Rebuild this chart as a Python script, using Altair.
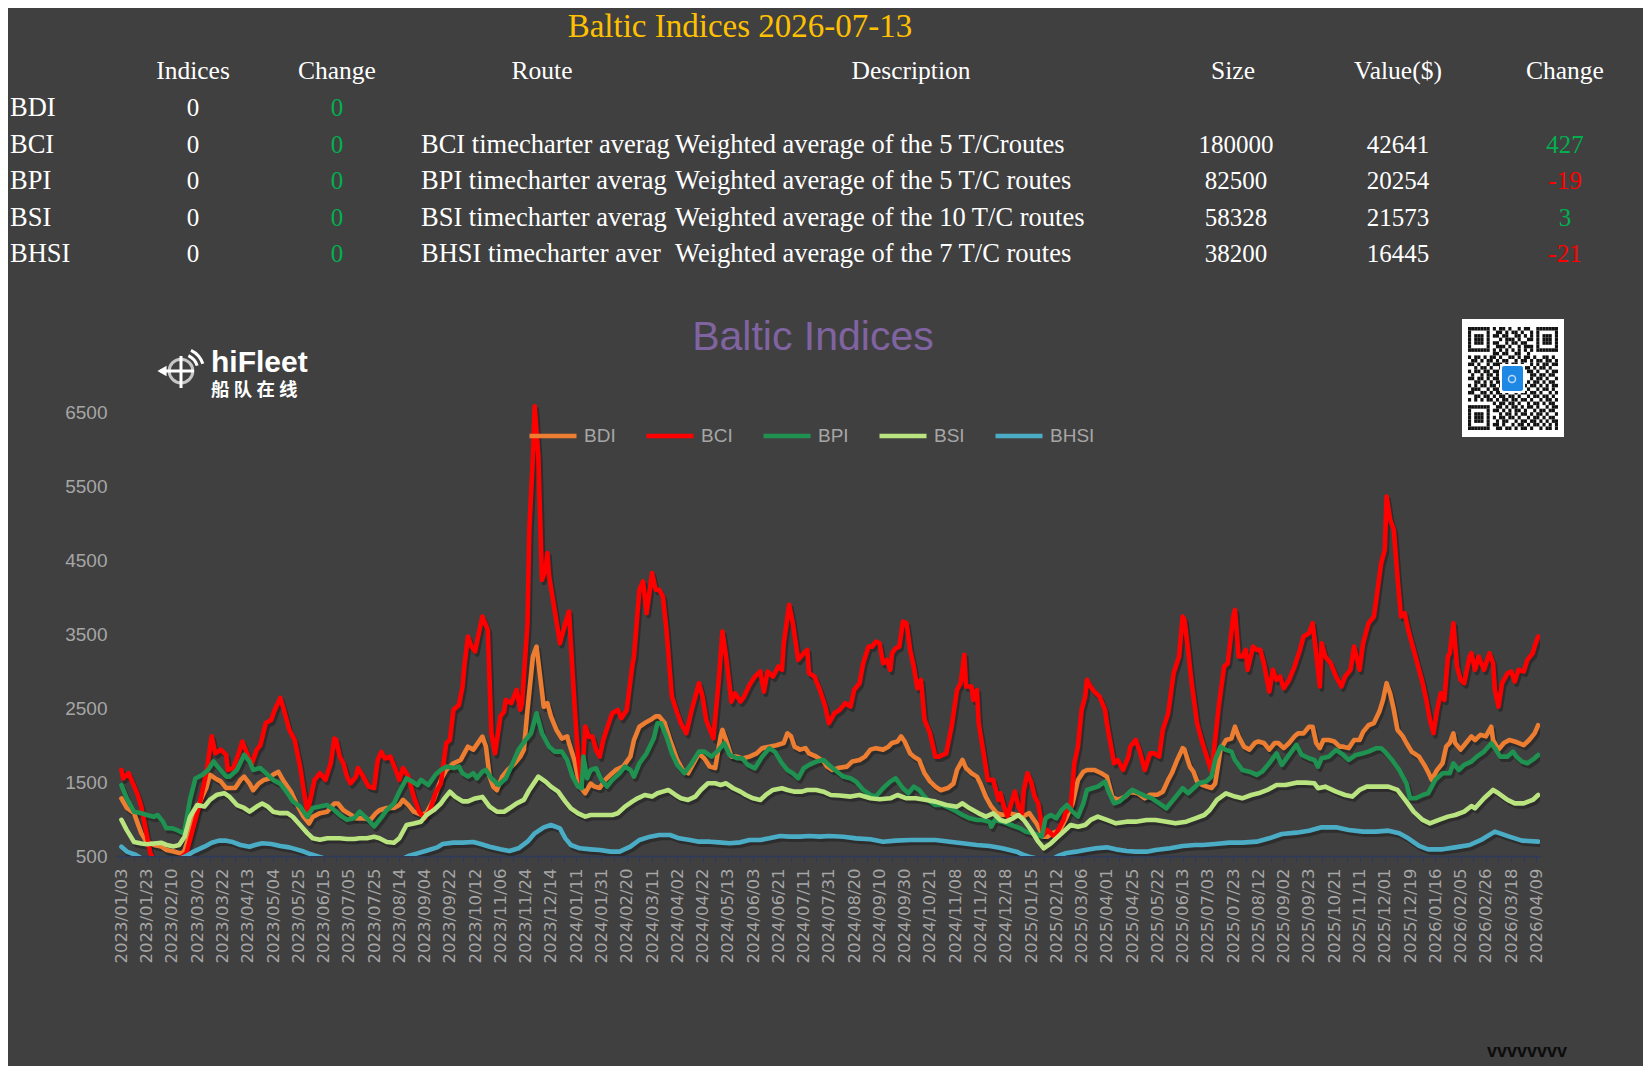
import altair as alt
import pandas as pd

# ------------------------------------------------------------------ data
series_names = ["BDI", "BCI", "BPI", "BSI", "BHSI"]
series_colors = ["#ED7D31", "#FF0000", "#1F9150", "#B9E47F", "#4BACC6"]

# x = trading-day index (0 = 2023/01/03, 784 = 2026/04/09)
bdi_points = [(0,1280),(3,1150),(7,1080),(11,810),(14,690),(18,650),(22,630),(25,580),(29,560),(32,540),(34,540),(35,580),(38,810),(41,1080),(44,1260),(47,1420),(49,1600),(52,1550),(55,1510),(58,1420),(60,1420),(63,1420),(66,1530),(68,1575),(71,1480),(73,1390),(76,1480),(79,1530),(82,1550),(84,1600),(87,1640),(90,1510),(94,1370),(97,1210),(101,1030),(104,940),(106,1030),(110,1080),(114,1100),(118,1210),(120,1210),(123,1120),(127,1060),(130,1010),(134,1010),(138,990),(141,1080),(143,1120),(147,1150),(151,1150),(154,1190),(156,1260),(159,1190),(162,1100),(166,1060),(169,1080),(173,1260),(177,1530),(180,1665),(184,1755),(188,1800),(192,1980),(195,1940),(200,2116),(202,1980),(204,1575),(206,1440),(208,1390),(211,1575),(214,1665),(218,1755),(221,1845),(223,1940),(225,2480),(228,3200),(230,3335),(232,2930),(234,2520),(236,2570),(238,2390),(241,2210),(244,2090),(247,2120),(248,2030),(251,1800),(254,1440),(257,1350),(260,1480),(262,1440),(265,1420),(268,1530),(271,1600),(274,1665),(278,1710),(282,1845),(284,2070),(287,2250),(290,2300),(293,2340),(296,2390),(298,2390),(301,2300),(304,2070),(308,1800),(311,1665),(314,1620),(317,1755),(320,1890),(323,1820),(326,1710),(329,1690),(332,2116),(333,2207),(335,2070),(338,1845),(341,1845),(344,1820),(348,1845),(352,1890),(355,1960),(359,1980),(363,2000),(367,2030),(369,2160),(371,2120),(373,1980),(376,1940),(379,1960),(381,1890),(385,1845),(389,1780),(391,1710),(394,1665),(397,1690),(402,1710),(405,1780),(409,1800),(412,1845),(415,1940),(418,1960),(422,1940),(425,1980),(427,2030),(430,2050),(432,2120),(434,2050),(437,1890),(439,1845),(442,1800),(445,1620),(448,1510),(451,1440),(454,1390),(458,1420),(461,1480),(463,1665),(466,1800),(468,1690),(471,1620),(474,1575),(476,1480),(479,1300),(482,1170),(485,1080),(488,1055),(492,1080),(496,1055),(499,1030),(503,1080),(507,940),(511,760),(513,760),(516,810),(520,850),(523,990),(527,1210),(530,1530),(533,1640),(535,1665),(539,1665),(543,1620),(546,1575),(549,1300),(552,1260),(556,1300),(559,1370),(563,1350),(567,1280),(570,1330),(574,1330),(577,1370),(580,1530),(582,1620),(585,1800),(588,1960),(589,1940),(592,1710),(594,1640),(596,1510),(599,1460),(604,1420),(606,1480),(609,1940),(612,2070),(615,2090),(617,2250),(619,2120),(622,1980),(625,1940),(628,2030),(630,2050),(633,2030),(636,1940),(639,2030),(641,2030),(644,1960),(647,2030),(650,2120),(652,2160),(655,2160),(658,2250),(660,2250),(662,2030),(664,1960),(666,2070),(669,2070),(672,2050),(675,1980),(677,1980),(680,1960),(683,2070),(686,2070),(688,2180),(691,2270),(694,2300),(697,2455),(699,2610),(701,2840),(703,2700),(705,2480),(707,2210),(710,2120),(712,2030),(715,1910),(719,1845),(722,1730),(724,1640),(726,1530),(729,1665),(732,1755),(734,1980),(736,2030),(738,2160),(739,2030),(742,1940),(745,2030),(748,2120),(750,2070),(753,2140),(756,2120),(759,2250),(760,2070),(763,1940),(766,2030),(769,2070),(772,2050),(774,2030),(777,2000),(780,2070),(783,2160),(785,2270)]

bci_points = [(0,1665),(1,1550),(4,1620),(9,1330),(11,1170),(16,540),(19,400),(29,400),(36,540),(43,1170),(47,1620),(50,2120),(52,1890),(55,1940),(58,1870),(59,1665),(62,1690),(65,1890),(67,2050),(70,1870),(72,1730),(75,1940),(77,2000),(80,2300),(83,2340),(85,2480),(88,2640),(90,2480),(93,2210),(96,2070),(99,1710),(101,1390),(103,1100),(105,1300),(107,1530),(110,1620),(113,1530),(116,1755),(118,2090),(119,2070),(121,1845),(123,1755),(125,1575),(127,1484),(130,1575),(131,1690),(134,1575),(137,1440),(140,1420),(142,1800),(144,1910),(146,1820),(149,1845),(152,1665),(154,1530),(156,1690),(159,1575),(162,1300),(165,1100),(168,1010),(171,1120),(174,1350),(177,1480),(178,1665),(180,2030),(182,2070),(184,2480),(187,2545),(189,2790),(190,3065),(192,3470),(194,3335),(196,3270),(198,3516),(200,3742),(203,3560),(205,2160),(207,1890),(210,2390),(212,2455),(213,2610),(216,2570),(219,2750),(221,2480),(222,2570),(225,3650),(226,4916),(228,5909),(229,6586),(231,5909),(233,4238),(235,4374),(236,4600),(237,4284),(240,3832),(243,3381),(246,3651),(248,3810),(249,3381),(251,2568),(253,1845),(255,1484),(257,2252),(259,2116),(261,2116),(263,1936),(265,1845),(267,2071),(270,2297),(272,2432),(275,2478),(277,2365),(280,2478),(283,3065),(284,3200),(287,4103),(289,4216),(291,3787),(294,4329),(296,4103),(298,4103),(300,4013),(302,3561),(305,2658),(308,2432),(310,2297),(313,2162),(316,2478),(318,2658),(320,2839),(322,2658),(324,2342),(328,2094),(331,2884),(333,3539),(335,3200),(338,2590),(340,2703),(343,2590),(345,2658),(348,2816),(351,2929),(354,2997),(356,2726),(358,2997),(361,2929),(364,3065),(366,3020),(367,3381),(370,3900),(372,3651),(375,3155),(378,3245),(380,3290),(381,2974),(384,2929),(387,2749),(390,2523),(392,2297),(395,2432),(398,2478),(401,2568),(404,2523),(406,2749),(409,2839),(411,3110),(414,3335),(416,3335),(418,3403),(420,3381),(422,3110),(424,3155),(426,3020),(427,3245),(429,3313),(431,3335),(433,3674),(435,3651),(437,3290),(439,3065),(441,2771),(443,2884),(445,2342),(448,2162),(451,1845),(453,1845),(457,1890),(460,2252),(463,2749),(465,2839),(467,3223),(468,2794),(471,2794),(472,2613),(474,2749),(475,2297),(478,1845),(480,1530),(483,1530),(486,1259),(487,1349),(489,1168),(491,1033),(493,1213),(495,1371),(497,1168),(499,1078),(500,1394),(502,1620),(504,1507),(506,1304),(508,1213),(510,897),(511,784),(513,852),(515,807),(517,762),(519,852),(522,988),(523,1078),(526,1168),(528,1755),(530,1981),(532,2478),(534,2658),(535,2884),(537,2794),(539,2726),(542,2658),(545,2478),(546,2297),(548,2026),(550,1755),(552,1800),(555,1665),(558,1845),(559,1981),(562,2071),(564,1936),(567,1665),(570,1890),(572,1890),(575,1845),(577,2207),(580,2432),(582,2794),(583,2974),(586,3200),(588,3742),(589,3697),(591,3290),(593,2839),(596,2297),(599,2026),(602,1800),(604,1642),(606,2071),(608,2523),(611,3065),(613,3110),(616,3742),(617,3832),(619,3200),(621,3200),(623,3290),(624,3020),(627,3335),(629,3290),(631,3290),(633,3110),(636,2726),(638,3020),(640,2884),(642,2929),(644,2771),(647,2884),(650,3065),(653,3290),(655,3471),(658,3516),(660,3651),(662,3245),(664,2794),(665,3381),(667,3200),(670,3110),(673,2929),(676,2794),(678,2929),(681,3020),(683,3335),(686,3020),(688,3381),(691,3651),(694,3742),(696,4103),(698,4464),(700,4645),(701,5367),(703,5051),(705,4916),(707,4284),(709,3742),(711,3787),(713,3561),(716,3290),(719,3020),(721,2839),(723,2613),(725,2342),(727,2162),(729,2478),(731,2703),(733,2613),(735,3200),(736,3245),(738,3651),(740,3065),(742,2884),(744,2839),(747,3200),(748,3245),(750,3020),(752,3200),(755,3020),(758,3245),(760,3110),(761,2749),(763,2523),(765,2839),(768,2974),(770,2997),(772,2861),(774,3020),(777,2997),(779,3155),(782,3245),(783,3335),(785,3471)]

bpi_points = [(0,1460),(3,1280),(7,1100),(11,1080),(14,1055),(18,1030),(20,1055),(23,965),(25,875),(28,875),(31,850),(34,810),(35,850),(38,1260),(41,1550),(45,1600),(48,1665),(51,1780),(54,1690),(58,1575),(60,1575),(64,1665),(68,1870),(71,1780),(73,1665),(77,1690),(81,1600),(84,1530),(88,1480),(92,1350),(95,1240),(99,1170),(103,1030),(106,1150),(110,1170),(114,1190),(118,1120),(121,1055),(125,990),(129,1010),(132,1100),(136,1010),(140,900),(143,990),(147,1120),(151,1210),(154,1370),(158,1550),(161,1510),(164,1460),(166,1530),(170,1460),(174,1600),(177,1665),(180,1710),(184,1690),(187,1710),(189,1620),(192,1575),(195,1620),(197,1552),(200,1642),(202,1665),(205,1552),(209,1462),(213,1552),(216,1710),(220,1936),(224,2071),(227,2162),(230,2432),(233,2162),(237,1981),(240,1913),(244,1913),(247,1800),(250,1575),(253,1439),(255,1417),(256,1845),(258,1552),(260,1665),(263,1687),(266,1530),(269,1439),(272,1530),(276,1620),(279,1710),(282,1665),(284,1575),(287,1755),(291,1890),(295,2094),(297,2297),(299,2297),(302,2116),(305,1890),(308,1733),(312,1620),(316,1755),(320,1913),(323,1913),(327,1845),(331,1936),(334,2026),(337,1868),(341,1823),(344,1823),(347,1733),(351,1687),(355,1845),(359,1958),(362,1913),(366,1755),(369,1665),(372,1620),(375,1552),(378,1687),(381,1733),(385,1778),(389,1800),(392,1733),(396,1650),(400,1575),(404,1552),(407,1507),(411,1394),(415,1326),(418,1304),(422,1417),(426,1507),(429,1552),(433,1417),(436,1349),(439,1439),(442,1394),(445,1304),(448,1236),(451,1191),(455,1191),(459,1146),(463,1100),(466,1055),(470,1010),(474,988),(477,988),(481,965),(482,897),(484,988),(488,965),(493,920),(498,875),(501,830),(505,807),(508,784),(510,762),(512,1010),(515,1055),(518,1010),(521,1123),(524,1191),(527,1100),(530,1033),(533,1213),(535,1394),(538,1417),(541,1439),(545,1507),(547,1371),(550,1213),(553,1236),(557,1326),(560,1394),(564,1349),(568,1304),(571,1281),(575,1213),(579,1146),(582,1236),(585,1326),(588,1417),(591,1349),(594,1417),(597,1484),(601,1507),(604,1575),(606,1800),(609,1981),(612,1936),(615,1913),(617,1800),(621,1665),(625,1642),(629,1597),(632,1642),(636,1755),(640,1890),(643,1733),(647,1868),(651,2003),(654,1868),(658,1823),(661,1800),(663,1710),(665,1823),(669,1845),(673,1936),(677,1868),(680,1800),(684,1868),(688,1890),(691,1913),(695,1958),(698,1958),(700,1913),(704,1800),(708,1665),(712,1484),(714,1281),(717,1281),(721,1326),(724,1349),(728,1530),(732,1620),(736,1620),(738,1755),(741,1665),(744,1733),(748,1778),(751,1845),(755,1913),(759,2026),(761,1958),(764,1845),(768,1845),(771,1913),(773,1845),(776,1778),(779,1755),(783,1823),(785,1868)]

bsi_points = [(0,990),(3,850),(7,690),(11,670),(14,660),(18,670),(22,680),(25,650),(29,630),(32,650),(35,760),(38,1030),(42,1190),(46,1170),(49,1260),(53,1330),(57,1350),(60,1300),(64,1190),(68,1150),(71,1100),(75,1170),(78,1210),(81,1170),(84,1100),(88,1080),(92,1080),(95,1030),(99,920),(103,810),(106,740),(110,720),(114,740),(118,740),(121,740),(125,730),(129,730),(132,740),(136,740),(140,760),(143,740),(147,690),(151,680),(154,740),(158,920),(162,940),(166,965),(169,1055),(173,1120),(177,1210),(179,1280),(182,1370),(185,1300),(189,1240),(192,1240),(196,1280),(200,1300),(204,1168),(208,1100),(212,1100),(215,1146),(219,1213),(223,1259),(226,1394),(231,1575),(235,1507),(238,1439),(242,1371),(246,1236),(249,1146),(253,1078),(257,1033),(260,1055),(264,1055),(268,1055),(272,1055),(275,1078),(279,1168),(283,1236),(286,1281),(290,1326),(294,1304),(297,1349),(300,1371),(303,1394),(307,1326),(310,1281),(314,1259),(318,1304),(321,1394),(325,1484),(329,1484),(332,1462),(335,1484),(339,1417),(343,1371),(346,1326),(350,1281),(354,1259),(357,1326),(361,1394),(366,1417),(369,1394),(373,1371),(377,1371),(380,1394),(385,1394),(389,1371),(393,1326),(398,1320),(404,1304),(409,1326),(415,1281),(420,1268),(426,1281),(430,1326),(435,1281),(440,1281),(446,1259),(451,1236),(457,1191),(463,1168),(466,1213),(470,1146),(475,1078),(479,1033),(483,1078),(487,988),(490,965),(494,1010),(497,1055),(500,988),(504,852),(508,694),(511,604),(515,672),(519,762),(523,852),(526,920),(530,897),(534,920),(537,988),(541,1033),(546,988),(551,942),(557,965),(562,965),(568,988),(573,988),(579,965),(584,942),(590,965),(595,1010),(600,1055),(603,1123),(607,1259),(612,1349),(617,1304),(621,1281),(626,1326),(630,1349),(635,1394),(640,1462),(645,1462),(651,1493),(656,1493),(661,1484),(663,1417),(667,1439),(673,1371),(678,1326),(682,1304),(686,1394),(690,1439),(696,1439),(702,1439),(707,1394),(712,1236),(716,1100),(721,988),(725,942),(730,988),(735,1033),(739,1055),(744,1100),(748,1177),(750,1146),(755,1281),(760,1394),(763,1349),(768,1259),(772,1213),(777,1213),(782,1259),(785,1326)]

bhsi_points = [(0,626),(3,560),(8,514),(11,470),(14,450),(20,440),(30,440),(36,500),(40,560),(46,626),(50,680),(54,708),(58,708),(61,694),(66,649),(71,626),(74,649),(78,672),(83,663),(88,636),(93,617),(97,590),(101,560),(105,523),(108,500),(112,470),(120,440),(140,430),(155,450),(159,500),(164,536),(169,572),(175,617),(178,663),(184,681),(189,681),(195,690),(200,655),(204,626),(210,590),(215,568),(220,604),(225,694),(229,807),(234,888),(238,920),(243,875),(246,739),(249,649),(254,604),(260,590),(265,581),(271,559),(276,559),(282,626),(287,717),(293,762),(298,784),(304,784),(309,739),(315,717),(320,694),(326,694),(331,685),(337,672),(343,685),(348,717),(354,717),(359,739),(365,771),(370,762),(376,762),(381,771),(387,762),(392,771),(400,760),(407,739),(415,726),(422,694),(429,708),(437,717),(444,717),(451,717),(459,694),(466,672),(474,649),(481,636),(488,604),(496,559),(500,514),(503,490),(510,450),(516,460),(519,500),(523,536),(529,559),(534,581),(540,604),(546,617),(551,590),(557,568),(562,559),(568,559),(573,581),(581,604),(588,636),(595,649),(599,649),(606,663),(614,681),(621,681),(629,694),(636,739),(643,798),(651,816),(658,843),(665,888),(673,888),(680,852),(688,830),(695,830),(702,843),(708,807),(713,739),(719,636),(724,590),(732,590),(739,617),(747,649),(754,726),(761,830),(769,762),(776,708),(785,694)]

# x-axis tick labels, one every 14 trading days
date_labels = ["2023/01/03","2023/01/23","2023/02/10","2023/03/02","2023/03/22","2023/04/13","2023/05/04","2023/05/25","2023/06/15","2023/07/05","2023/07/25","2023/08/14","2023/09/04","2023/09/22","2023/10/12","2023/11/06","2023/11/24","2023/12/14","2024/01/11","2024/01/31","2024/02/20","2024/03/11","2024/04/02","2024/04/22","2024/05/13","2024/06/03","2024/06/21","2024/07/11","2024/07/31","2024/08/20","2024/09/10","2024/09/30","2024/10/21","2024/11/08","2024/11/28","2024/12/18","2025/01/15","2025/02/12","2025/03/06","2025/04/01","2025/04/25","2025/05/22","2025/06/13","2025/07/03","2025/07/23","2025/08/12","2025/09/02","2025/09/23","2025/10/21","2025/11/11","2025/12/01","2025/12/19","2026/01/16","2026/02/05","2026/02/26","2026/03/18","2026/04/09"]
y_ticks = [500, 1500, 2500, 3500, 4500, 5500, 6500]

# table above the chart
table_title = "Baltic Indices 2026-07-13"
col_headers = ["Indices", "Change", "Route", "Description", "Size", "Value($)", "Change"]
index_names = ["BDI", "BCI", "BPI", "BSI", "BHSI"]
index_values = [0, 0, 0, 0, 0]
index_changes = [0, 0, 0, 0, 0]
routes = ["", "BCI timecharter average", "BPI timecharter average", "BSI timecharter average", "BHSI timecharter average"]
descriptions = ["", "Weighted average of the 5 T/Croutes", "Weighted average of the 5 T/C routes", "Weighted average of the 10 T/C routes", "Weighted average of the 7 T/C routes"]
sizes = ["", "180000", "82500", "58328", "38200"]
route_values = ["", "42641", "20254", "21573", "16445"]
route_changes = [None, 427, -19, 3, -21]

chart_title = "Baltic Indices"
logo_text = "hiFleet"
logo_cn = "船 队 在 线"
footer_text = "vvvvvvvv"

# QR-code like decoration (module bitmap)
F = ["1111111", "1000001", "1011101", "1011101", "1011101", "1000001", "1111111"]
qr_mid_top = ["1011010010110", "0110101101001", "1101100110101", "0010111010011", "1100101101100", "0111010010111", "1010101010101"]
qr_body = [
    "00000000" + "1101100110010" + "00000000",
    "10110101101001101011010011010",
    "01101011010110010110101101101",
    "11010010111010110100101011011",
    "00101101001100000011010110100",
    "10110110110100000001101001011",
    "01001011010000000000110110110",
    "11011010110100000000101101001",
    "00110101011000000001011010110",
    "10101101101100000010110101011",
    "01110010110101101101001011010",
    "11001101011010010110110100101",
    "00110110101101101001011011010",
    "10101011010110110110100101101",
    "00000000" + "101101101001011010110",
]
qr_tail = ["011010110101101001011", "110101011010010110110", "001011010110101101001",
           "101101101001011010110", "010110010110110101011", "110100101101011010101",
           "011011010110100101101"]
qr_rows = [F[r] + "0" + qr_mid_top[r] + "0" + F[r] for r in range(7)] + qr_body + \
          [F[r] + "0" + qr_tail[r] for r in range(7)]

# ------------------------------------------------------------------ layout (page pixels)
PX0, PY0 = 116, 398          # plot-area origin on the page
PLOT_W, PLOT_H = 1424, 458
BG = "#404040"
LINE_W = 4.6


def rx(x):
    return x - PX0


def ry(y):
    return y - PY0


# ------------------------------------------------------------------ series frame
recs = []
for name, pts in zip(series_names, [bdi_points, bci_points, bpi_points, bsi_points, bhsi_points]):
    for i, v in pts:
        recs.append({"series": name, "idx": i, "val": v})
df = pd.DataFrame(recs)

label_array = "[" + ",".join("'%s'" % d for d in date_labels) + "]"
x_axis = alt.Axis(
    values=list(range(0, 785, 7)),
    labelExpr="datum.value % 14 == 0 ? " + label_array + "[datum.value / 14] : ''",
    labelAngle=-90, labelFont="DejaVu Sans", labelFontSize=16.5, labelColor="#A6A6A6",
    labelPadding=6, labelOverlap=False, labelFlush=False, labelBound=False,
    tickColor="#2E3A5C", tickSize=6, tickWidth=1,
    domainColor="#2E3A5C", domainWidth=1.5, grid=False, title=None,
)
y_axis = alt.Axis(
    values=y_ticks, format="d", labelFont="Liberation Sans", labelFontSize=19, labelColor="#A6A6A6",
    labelPadding=9, domain=False, ticks=False, tickSize=0, grid=False, title=None,
)
X = alt.X("idx:Q", scale=alt.Scale(domain=[-3, 786], nice=False, zero=False), axis=x_axis)
Y = alt.Y("val:Q", scale=alt.Scale(domain=[500, 6700], nice=False, zero=False), axis=y_axis)

shadow = alt.Chart(df).mark_line(
    stroke="#1a1a1a", strokeWidth=LINE_W, opacity=0.5, xOffset=2, yOffset=3,
    clip=True, strokeJoin="round", strokeCap="round",
).encode(x=X, y=Y, detail="series:N")

lines = alt.Chart(df).mark_line(
    strokeWidth=LINE_W, clip=True, strokeJoin="round", strokeCap="round"
).encode(
    x=X, y=Y,
    color=alt.Color(
        "series:N",
        scale=alt.Scale(domain=series_names, range=series_colors),
        sort=series_names,
        legend=alt.Legend(
            orient="none", legendX=411, legendY=12, direction="horizontal", title=None,
            symbolType="stroke", symbolStrokeWidth=LINE_W, symbolSize=2209,
            labelFont="Liberation Sans", labelFontSize=19, labelColor="#A6A6A6",
            columnPadding=21, labelOffset=5, padding=0,
        ),
    ),
)

# ------------------------------------------------------------------ texts
SERIF = "Liberation Serif"
TXT_FS = 26.5     # words in the table
NUM_FS = 25       # numbers in the table
HEAD_FS = 25.5


def one_text(text, x, y, **kw):
    return alt.Chart(pd.DataFrame({"t": [text]})).mark_text(**kw).encode(
        x=alt.value(rx(x)), y=alt.value(ry(y)), text="t:N")


layers = []
layers.append(one_text(table_title, 740, 37, font=SERIF, fontSize=33, color="#FFC000",
                       align="center", baseline="alphabetic"))
header_x = [193, 337, 542, 911, 1233, 1398, 1565]
for h, hx in zip(col_headers, header_x):
    layers.append(one_text(h, hx, 79, font=SERIF, fontSize=HEAD_FS, color="#FFFFFF",
                           align="center", baseline="alphabetic"))

row_base = [116 + 36.5 * k for k in range(len(index_names))]
GREEN, RED = "#00B050", "#FF0000"
tab = pd.DataFrame({
    "name": index_names,
    "ival": [str(v) for v in index_values],
    "ichg": [str(v) for v in index_changes],
    "route": routes,
    "desc": descriptions,
    "size": sizes,
    "rval": route_values,
    "rchg": ["" if c is None else str(c) for c in route_changes],
    "rclr": [GREEN if (c is not None and c >= 0) else RED for c in route_changes],
    "py": [ry(b) for b in row_base],
})


def col_text(field, x, align, color, fs, **kw):
    enc = dict(x=alt.value(rx(x)), y=alt.Y("py:Q", scale=None, axis=None), text=f"{field}:N")
    mk = dict(font=SERIF, fontSize=fs, align=align, baseline="alphabetic", **kw)
    if color is None:
        enc["color"] = alt.Color("rclr:N", scale=None, legend=None)
    else:
        mk["color"] = color
    return alt.Chart(tab).mark_text(**mk).encode(**enc)


layers.append(col_text("name", 10, "left", "#FFFFFF", TXT_FS))
layers.append(col_text("ival", 193, "center", "#FFFFFF", NUM_FS))
layers.append(col_text("ichg", 337, "center", GREEN, NUM_FS))
layers.append(col_text("route", 421, "left", "#FFFFFF", TXT_FS, limit=251, ellipsis="\u200b"))
layers.append(col_text("desc", 675, "left", "#FFFFFF", TXT_FS))
layers.append(col_text("size", 1236, "center", "#FFFFFF", NUM_FS))
layers.append(col_text("rval", 1398, "center", "#FFFFFF", NUM_FS))
layers.append(col_text("rchg", 1565, "center", None, NUM_FS))

# chart title and logo
layers.append(one_text(chart_title, 813, 350, font="Liberation Sans", fontSize=41,
                       color="#8064A2", align="center", baseline="alphabetic"))
layers.append(one_text(logo_text, 211, 372, font="Liberation Sans", fontSize=30,
                       fontWeight="bold", color="#FFFFFF", align="left", baseline="alphabetic"))
layers.append(one_text(logo_cn, 211, 396, font="Noto Sans CJK SC", fontSize=18.5,
                       fontWeight="bold", color="#FFFFFF", align="left", baseline="alphabetic"))

one = pd.DataFrame({"k": [0]})
gx, gy = 181, 371
layers.append(alt.Chart(one).mark_point(shape="circle", filled=False, stroke="#FFFFFF",
                                        strokeWidth=3, size=560).encode(
    x=alt.value(rx(gx)), y=alt.value(ry(gy))))
layers.append(alt.Chart(one).mark_rule(color="#FFFFFF", strokeWidth=3).encode(
    x=alt.value(rx(160)), x2=alt.value(rx(194)), y=alt.value(ry(gy))))
layers.append(alt.Chart(one).mark_rule(color="#FFFFFF", strokeWidth=3).encode(
    x=alt.value(rx(gx)), y=alt.value(ry(356)), y2=alt.value(ry(388))))
layers.append(alt.Chart(one).mark_point(shape="triangle-left", filled=True, color="#FFFFFF",
                                        opacity=1, size=110).encode(
    x=alt.value(rx(162)), y=alt.value(ry(gy))))
for r0, r1 in [(15.5, 18.5), (21.5, 24.5)]:
    layers.append(alt.Chart(one).mark_arc(radius=r1, radius2=r0, theta=0.45, theta2=1.25,
                                          color="#FFFFFF").encode(
        x=alt.value(rx(gx)), y=alt.value(ry(gy))))

# QR decoration
QX0, QY0, QX1, QY1 = 1462, 319, 1564, 437
layers.append(alt.Chart(one).mark_rect(color="#FFFFFF").encode(
    x=alt.value(rx(QX0)), x2=alt.value(rx(QX1)), y=alt.value(ry(QY0)), y2=alt.value(ry(QY1))))
mx0, my0 = 1468, 327
mw, mh = 90 / 29, 103 / 29
cells = []
for r, row in enumerate(qr_rows):
    for c, ch in enumerate(row[:29]):
        if ch == "1":
            cells.append({"qx": rx(mx0 + c * mw), "qx2": rx(mx0 + (c + 1) * mw),
                          "qy": ry(my0 + r * mh), "qy2": ry(my0 + (r + 1) * mh)})
qr_df = pd.DataFrame(cells)
layers.append(alt.Chart(qr_df).mark_rect(color="#111111").encode(
    x=alt.X("qx:Q", scale=None, axis=None), x2="qx2:Q",
    y=alt.Y("qy:Q", scale=None, axis=None), y2="qy2:Q"))
layers.append(alt.Chart(one).mark_rect(color="#FFFFFF").encode(
    x=alt.value(rx(1500)), x2=alt.value(rx(1525)), y=alt.value(ry(364)), y2=alt.value(ry(393))))
layers.append(alt.Chart(one).mark_rect(color="#1E88E5", cornerRadius=2).encode(
    x=alt.value(rx(1502)), x2=alt.value(rx(1523)), y=alt.value(ry(366)), y2=alt.value(ry(391))))
layers.append(alt.Chart(one).mark_point(shape="circle", filled=False, stroke="#FFFFFF",
                                        strokeWidth=1.5, size=50).encode(
    x=alt.value(rx(1512)), y=alt.value(ry(379))))

layers.append(one_text(footer_text, 1487, 1057, font="Liberation Sans", fontSize=18,
                       fontWeight="bold", color="#0D0D0D", align="left", baseline="alphabetic"))

chart = alt.layer(shadow, lines, *layers).properties(
    width=PLOT_W, height=PLOT_H,
    padding={"left": 108, "top": 390, "right": 103, "bottom": 210},
    autosize=alt.AutoSizeParams(type="none"),
    background=BG,
).configure_view(stroke=None)

chart.save("out.html", embed_options={"renderer": "svg", "actions": False})
